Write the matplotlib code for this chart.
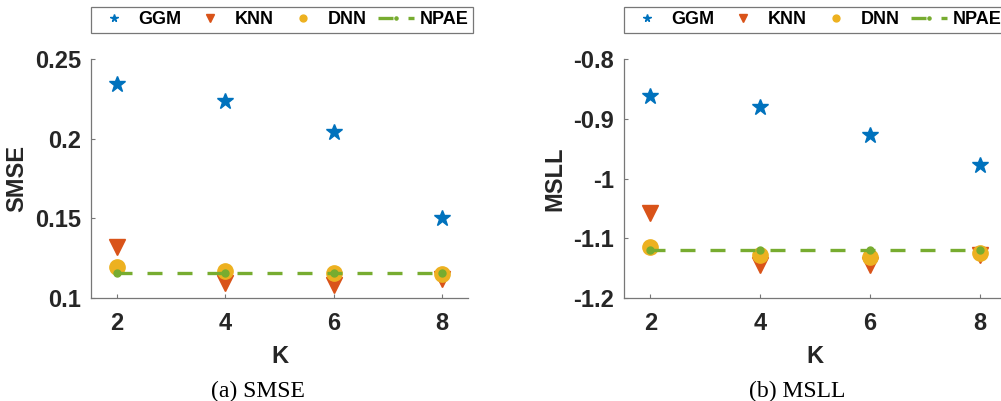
import numpy as np
from matplotlib import pyplot as plt

K = [2, 4, 6, 8]

smse_ggm = [0.234, 0.2236, 0.204, 0.1505]
smse_knn = [0.132, 0.1094, 0.108, 0.112]
smse_dnn = [0.1195, 0.117, 0.1155, 0.115]
smse_npae = [0.1155, 0.1155, 0.1155, 0.1155]

msll_ggm = [-0.862, -0.881, -0.927, -0.977]
msll_knn = [-1.058, -1.145, -1.145, -1.128]
msll_dnn = [-1.114, -1.128, -1.131, -1.125]
msll_npae = [-1.12, -1.12, -1.12, -1.12]

C_GGM = '#0072BD'
C_KNN = '#D95319'
C_DNN = '#EDB120'
C_NPAE = '#77AC30'
AX_COL = '#262626'

plt.rcParams['font.family'] = ['Liberation Sans', 'DejaVu Sans']

fig = plt.figure(figsize=(10.01, 4.01), dpi=100)
ax1 = fig.add_axes([91 / 1001, 1 - 298 / 401, 377 / 1001, 239 / 401])
ax2 = fig.add_axes([624 / 1001, 1 - 298 / 401, 382 / 1001, 239 / 401])


def draw(ax, ggm, knn, dnn, npae, ylim, yticks, ylabels, ylab, caption, cap_x):
    ax.plot(K, ggm, ls='none', marker='*', ms=12, color=C_GGM, label='GGM')
    ax.plot(K, knn, ls='none', marker='v', ms=12, color=C_KNN, label='KNN')
    ax.plot(K, dnn, ls='none', marker='o', ms=11, color=C_DNN, label='DNN')
    ax.plot(K, npae, ls='--', dashes=(4.5, 4.5), lw=2.4, marker='o', ms=5,
            color=C_NPAE, label='NPAE')
    ax.set_xlim(1.52, 8.48)
    ax.set_ylim(*ylim)
    ax.set_xticks(K)
    ax.set_yticks(yticks)
    ax.set_yticklabels(ylabels)
    for s in ['top', 'right']:
        ax.spines[s].set_visible(False)
    for s in ['left', 'bottom']:
        ax.spines[s].set_color('#777777')
        ax.spines[s].set_linewidth(0.9)
    ax.tick_params(direction='in', length=3, width=0.8, color='#777777',
                   labelsize=17, labelcolor=AX_COL)
    ax.tick_params(axis='x', pad=10)
    ax.tick_params(axis='y', pad=7)
    for t in ax.get_xticklabels() + ax.get_yticklabels():
        t.set_fontweight('bold')
    ax.set_xlabel('K', fontsize=17, fontweight='bold', color=AX_COL, labelpad=7)
    ax.set_ylabel(ylab, fontsize=17, fontweight='bold', color=AX_COL, labelpad=5)
    leg = ax.legend(loc='lower left', bbox_to_anchor=(0, 1.109),
                    ncol=4, frameon=True, fancybox=False,
                    markerscale=0.45, handlelength=2.0, handletextpad=0.35,
                    borderaxespad=0, borderpad=0.25, columnspacing=0.62,
                    prop={'weight': 'bold', 'size': 13})
    leg.get_frame().set_edgecolor('#555555')
    leg.get_frame().set_linewidth(0.9)
    fig.text(cap_x, 1 - 391 / 401, caption, ha='center', va='center',
             fontsize=17, family='Liberation Serif', color='black')


draw(ax1, smse_ggm, smse_knn, smse_dnn, smse_npae, (0.1, 0.25),
     [0.1, 0.15, 0.2, 0.25], ['0.1', '0.15', '0.2', '0.25'], 'SMSE',
     '(a) SMSE', 258 / 1001)
draw(ax2, msll_ggm, msll_knn, msll_dnn, msll_npae, (-1.2, -0.8),
     [-1.2, -1.1, -1.0, -0.9, -0.8], ['-1.2', '-1.1', '-1', '-0.9', '-0.8'],
     'MSLL', '(b) MSLL', 797 / 1001)

fig.savefig('out.png', dpi=100)
